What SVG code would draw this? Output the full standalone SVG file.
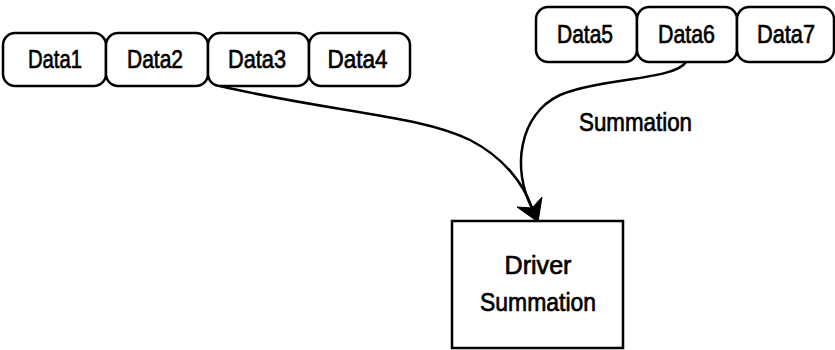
<svg xmlns="http://www.w3.org/2000/svg" width="835" height="350" viewBox="0 0 835 350">
<defs>
<style>
.b{fill:#fff;stroke:#000;stroke-width:2.5}
.t{font-family:"Liberation Sans",Arial,sans-serif;font-size:26.5px;fill:#000;stroke:#000;stroke-width:0.7;text-anchor:middle}
.c{fill:none;stroke:#000;stroke-width:2.5}
</style>
</defs>
<rect width="835" height="350" fill="#fff"/>
<g id="connectors">
<path class="c" d="M220,86 C330,112 420,115 470,140 C505,158 524,185 532,208"/>
<path class="c" d="M686,62 C675,80 600,78 560,95 C518,115 512,170 532,208"/>
<path d="M538,222 L517,207 L532,208 L542,197 Z" fill="#000" stroke="#000" stroke-width="1" stroke-linejoin="miter"/>
<text class="t" x="635.5" y="131" textLength="113" lengthAdjust="spacingAndGlyphs">Summation</text>
</g>
<g id="data1"><rect class="b" x="3" y="33" width="103" height="53" rx="12"/><text class="t" x="55" y="67.5" textLength="54" lengthAdjust="spacingAndGlyphs">Data1</text></g>
<g id="data2"><rect class="b" x="106" y="33" width="102" height="53" rx="12"/><text class="t" x="155" y="67.5" textLength="56" lengthAdjust="spacingAndGlyphs">Data2</text></g>
<g id="data3"><rect class="b" x="208" y="33" width="101" height="53" rx="12"/><text class="t" x="257" y="67.5" textLength="58" lengthAdjust="spacingAndGlyphs">Data3</text></g>
<g id="data4"><rect class="b" x="309" y="33" width="101" height="53" rx="12"/><text class="t" x="357.5" y="67.5" textLength="60" lengthAdjust="spacingAndGlyphs">Data4</text></g>
<g id="data5"><rect class="b" x="536" y="7" width="101" height="55" rx="12"/><text class="t" x="585" y="42.5" textLength="56" lengthAdjust="spacingAndGlyphs">Data5</text></g>
<g id="data6"><rect class="b" x="637" y="7" width="100" height="55" rx="12"/><text class="t" x="686.5" y="42.5" textLength="57" lengthAdjust="spacingAndGlyphs">Data6</text></g>
<g id="data7"><rect class="b" x="737" y="7" width="97" height="55" rx="12"/><text class="t" x="786" y="42.5" textLength="58" lengthAdjust="spacingAndGlyphs">Data7</text></g>
<g id="driver"><rect class="b" x="452" y="221" width="171" height="127"/><text class="t" x="538" y="274" textLength="67" lengthAdjust="spacingAndGlyphs">Driver</text><text class="t" x="538" y="311" textLength="116" lengthAdjust="spacingAndGlyphs">Summation</text></g>
</svg>
